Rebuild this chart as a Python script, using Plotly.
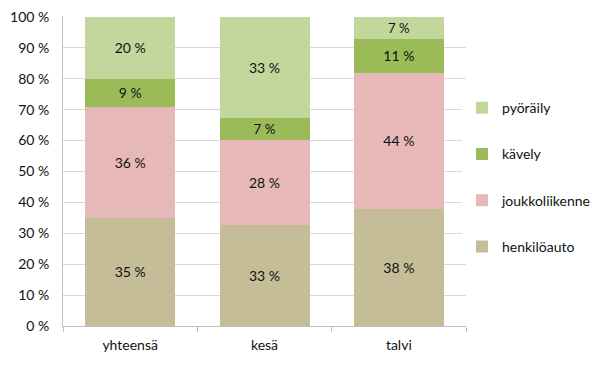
import plotly.graph_objects as go

categories = ["yhteensä", "kesä", "talvi"]
series_names = ["henkilöauto", "joukkoliikenne", "kävely", "pyöräily"]
henkiloauto = [35.0, 32.6, 37.9]
joukkoliikenne = [36.0, 27.6, 44.1]
kavely = [9.0, 7.2, 10.9]
pyoraily = [20.0, 32.6, 7.1]
colors = ["#C4BD97", "#E6B9B8", "#9BBB59", "#C3D69B"]
y_ticks = [0, 10, 20, 30, 40, 50, 60, 70, 80, 90, 100]
y_tick_labels = [f"{v} %" for v in y_ticks]

font_family = "Lato, 'Open Sans', sans-serif"

fig = go.Figure()
series_values = [henkiloauto, joukkoliikenne, kavely, pyoraily]
for i, (name, vals, col) in enumerate(zip(series_names, series_values, colors)):
    fig.add_trace(go.Bar(
        x=categories, y=vals, name=name, legendgroup=name,
        legendrank=len(series_names) - i,
        marker=dict(color=col, line=dict(width=0)),
        texttemplate="%{y:.0f} %", textposition="inside", insidetextanchor="middle",
        textangle=0, textfont=dict(family=font_family, size=14, color="#111111"),
        hoverinfo="skip",
    ))

fig.update_layout(
    barmode="stack", bargap=0.33,
    width=609, height=366,
    margin=dict(l=55, r=151, t=8, b=48, autoexpand=False),
    paper_bgcolor="white", plot_bgcolor="white",
    font=dict(family=font_family, size=14, color="#111111"),
    legend=dict(
        traceorder="grouped", x=0.99, xanchor="left", y=0.48, yanchor="middle",
        tracegroupgap=25, font=dict(size=14), itemwidth=30,
    ),
    showlegend=True,
)
fig.update_yaxes(
    range=[0, 100.3], tickvals=y_ticks, ticktext=y_tick_labels,
    showgrid=True, gridcolor="#D9D9D9", gridwidth=1,
    showline=True, linecolor="#BFBFBF", linewidth=1,
    ticks="", ticklen=0, zeroline=False, ticklabelstandoff=10, automargin=False,
    ticklabeloverflow="allow",
)
fig.update_xaxes(
    showline=True, linecolor="#BFBFBF", linewidth=1,
    ticks="outside", tickson="boundaries", ticklen=5, tickcolor="#BFBFBF",
    showgrid=False, automargin=False, ticklabelstandoff=6,
)

fig.write_html("out.html")
